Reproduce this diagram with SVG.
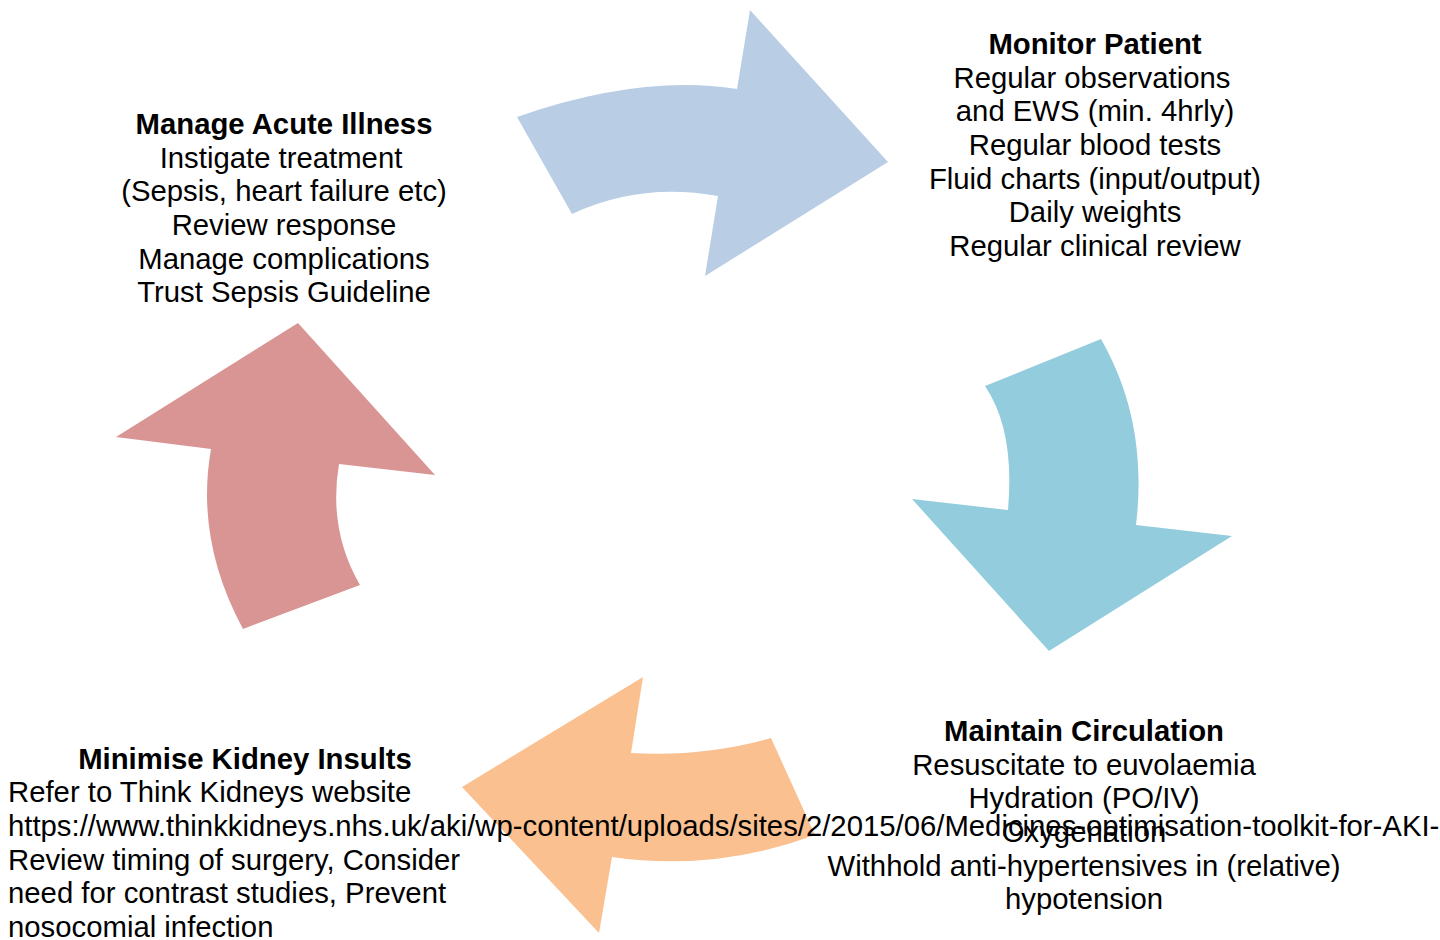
<svg xmlns="http://www.w3.org/2000/svg" width="1440" height="940" viewBox="0 0 1440 940">
<style>
text{font-family:"Liberation Sans",Arial,sans-serif;font-size:29.3px;fill:#000}
.b{font-weight:bold}
.c{text-anchor:middle}
</style>
<rect width="1440" height="940" fill="#fff"/>
<g id="connectors">
<path id="arrow-blue" fill="#B9CDE5" d="M517,117 L572,214 Q640,182 718,196 L705,276 L888,162 L750,10 L737,89 Q640,74 517,117 Z"/>
<path id="arrow-cyan" fill="#93CDDD" d="M985,386 L1101,339 C1130,390 1145,450 1136,525 L1232,536 L1049,651 L912,499 L1008,510 Q1015,430 985,386 Z"/>
<path id="arrow-orange" fill="#FAC090" d="M815,835 Q715,872 612,857 L599,933 L462,787 L643,677 L631,753 Q705,757 771,738 Z"/>
<path id="arrow-red" fill="#D99594" d="M243,629 Q195,540 211,449 L116,437 L298,323 L435,475 L339,464 Q328,530 360,585 Z"/>
</g>
<g id="monitor-patient">
<text class="c b" x="1095" y="54">Monitor Patient</text>
<text class="c" x="1092" y="88">Regular observations</text>
<text class="c" x="1095" y="121">and EWS (min. 4hrly)</text>
<text class="c" x="1095" y="155">Regular blood tests</text>
<text class="c" x="1095" y="189">Fluid charts (input/output)</text>
<text class="c" x="1095" y="222">Daily weights</text>
<text class="c" x="1095" y="256">Regular clinical review</text>
</g>
<g id="manage-acute-illness">
<text class="c b" x="284" y="134">Manage Acute Illness</text>
<text class="c" x="281" y="168">Instigate treatment</text>
<text class="c" x="284" y="201">(Sepsis, heart failure etc)</text>
<text class="c" x="284" y="235">Review response</text>
<text class="c" x="284" y="269">Manage complications</text>
<text class="c" x="284" y="302">Trust Sepsis Guideline</text>
</g>
<g id="minimise-kidney-insults">
<text class="c b" x="245" y="769">Minimise Kidney Insults</text>
<text x="8" y="802">Refer to Think Kidneys website</text>
<text x="8" y="836">https://www.thinkkidneys.nhs.uk/aki/wp-content/uploads/sites/2/2015/06/Medicines-optimisation-toolkit-for-AKI-</text>
<text x="8" y="870">Review timing of surgery, Consider</text>
<text x="8" y="903">need for contrast studies, Prevent</text>
<text x="8" y="937">nosocomial infection</text>
</g>
<g id="maintain-circulation">
<text class="c b" x="1084" y="741">Maintain Circulation</text>
<text class="c" x="1084" y="775">Resuscitate to euvolaemia</text>
<text class="c" x="1084" y="808">Hydration (PO/IV)</text>
<text class="c" x="1084" y="842">Oxygenation</text>
<text class="c" x="1084" y="876">Withhold anti-hypertensives in (relative)</text>
<text class="c" x="1084" y="909">hypotension</text>
</g>
</svg>
